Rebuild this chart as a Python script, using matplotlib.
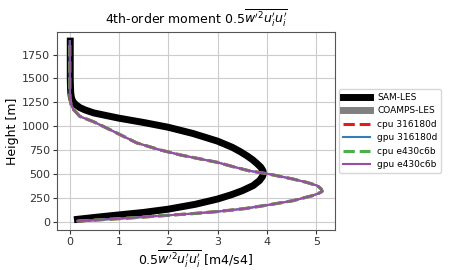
import matplotlib
matplotlib.use("Agg")

import matplotlib.pyplot as plt

# SAM-LES profile (height [m], value [m4/s4])
sam_z = [28, 50, 74, 100, 134, 185, 240, 285, 327, 380, 433, 475, 505, 535, 570, 610, 650, 690, 735, 780,
         845, 925, 990, 1040, 1085, 1115, 1140, 1170, 1195, 1225, 1250, 1280, 1310, 1350, 1400, 1500, 1650, 1800, 1890]
sam_val = [0.16, 0.55, 1.0, 1.5, 2.0, 2.55, 3.0, 3.28, 3.5, 3.72, 3.85, 3.91, 3.93, 3.92, 3.88, 3.8, 3.71, 3.6, 3.46, 3.3,
           3.0, 2.5, 2.0, 1.5, 1.0, 0.72, 0.49, 0.32, 0.21, 0.13, 0.08, 0.05, 0.035, 0.025, 0.02, 0.015, 0.015, 0.015, 0.015]

# COAMPS-LES has no data in this panel
coamps_z = []
coamps_val = []

# CLUBB runs (all four overlap)
clubb_z = [10, 20, 35, 52, 70, 88, 109, 140, 176, 222, 275, 300, 320, 345, 380, 415, 450, 505, 535, 580,
           623, 700, 754, 827, 919, 985, 1047, 1103, 1176, 1230, 1287, 1350, 1450, 1600, 1750, 1890]
clubb_val = [0.16, 0.5, 1.0, 1.5, 2.0, 2.5, 3.0, 3.55, 4.0, 4.52, 4.92, 5.05, 5.12, 5.1, 5.02, 4.8, 4.52, 4.0, 3.64, 3.3,
             3.0, 2.25, 1.83, 1.36, 1.0, 0.74, 0.49, 0.21, 0.08, 0.03, 0.01, 0.005, 0.005, 0.005, 0.005, 0.005]

runs = ["cpu 316180d", "gpu 316180d", "cpu e430c6b", "gpu e430c6b"]
run_colors = ["#e41a1c", "#377eb8", "#4daf4a", "#984ea3"]
run_styles = ["--", "-", "--", "-"]
run_widths = [2.2, 1.5, 2.2, 1.5]

fig = plt.figure(figsize=(4.5, 2.7), dpi=100)
ax = fig.add_axes([0.127, 0.148, 0.617, 0.733])

ax.plot(sam_val, sam_z, color="black", lw=5, label="SAM-LES")
ax.plot(coamps_val, coamps_z, color="grey", lw=5, label="COAMPS-LES")
for name, c, ls, lw in zip(runs, run_colors, run_styles, run_widths):
    ax.plot(clubb_val, clubb_z, color=c, ls=ls, lw=lw, label=name)

ax.grid(True, color="#cccccc", lw=0.8)
ax.set_axisbelow(True)
for s in ax.spines.values():
    s.set_color("#555555")
ax.tick_params(labelsize=8, colors="#333333", length=3, pad=2)
ax.set_yticks([0, 250, 500, 750, 1000, 1250, 1500, 1750])

ax.set_title(r"4th-order moment $0.5\overline{w^{\prime 2}u^\prime_i u^\prime_i}$", fontsize=9)
ax.set_xlabel(r"$0.5\overline{w^{\prime 2}u^\prime_i u^\prime_i}$ [m4/s4]", fontsize=9, labelpad=1)
ax.set_ylabel("Height [m]", fontsize=9, labelpad=2)

ax.legend(loc="center left", bbox_to_anchor=(1.0, 0.5), fontsize=6.5, handlelength=3)

fig.savefig("out.png", dpi=100)
